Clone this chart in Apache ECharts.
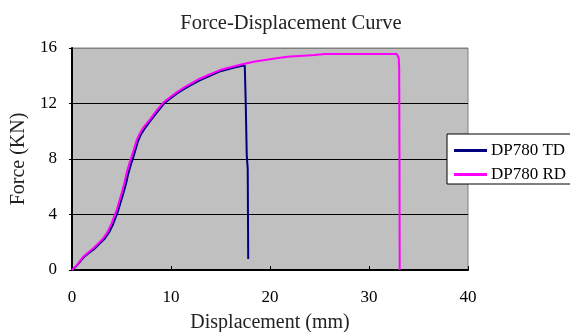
<!DOCTYPE html>
<html>
<head>
<meta charset="utf-8">
<script src="https://cdn.jsdelivr.net/npm/echarts@6/dist/echarts.min.js"></script>
<style>
  html, body { margin: 0; padding: 0; background: #fff; }
  #chart { width: 570px; height: 332px; }
</style>
</head>
<body>
<div id="chart"></div>
<script>
// Displacement (mm) and force (kN) samples for the two DP780 test directions
var dispTD = [0, 0.5, 1.2, 1.7, 2.25, 2.8, 3.3, 3.75, 4.15, 4.65, 5.15, 5.45, 5.67, 5.95, 6.18, 6.43, 6.65, 6.95, 7.3, 7.95, 8.6, 9.3, 10.0, 10.65, 11.3, 12.0, 12.9, 13.7, 15.0, 16.3, 17.45, 17.55, 17.65, 17.75, 17.8];
var forceTD = [0, 0.33, 0.93, 1.22, 1.52, 1.9, 2.25, 2.72, 3.3, 4.25, 5.45, 6.2, 6.9, 7.6, 8.1, 8.7, 9.25, 9.75, 10.15, 10.78, 11.38, 12.0, 12.4, 12.74, 13.04, 13.33, 13.67, 13.93, 14.33, 14.58, 14.75, 12.0, 8.3, 7.3, 0.8];

var dispRD = [0, 0.5, 1.14, 1.6, 2.15, 2.7, 3.16, 3.6, 4.01, 4.52, 5.02, 5.3, 5.52, 5.8, 6.03, 6.3, 6.53, 6.85, 7.2, 7.88, 8.5, 9.22, 9.9, 10.57, 11.2, 11.92, 12.8, 13.6, 14.95, 16.2, 17.3, 18.5, 19.66, 21.0, 22.02, 23.36, 24.5, 25.56, 28.0, 30.0, 32.8, 33.0, 33.05, 33.08, 33.1];
var forceRD = [0, 0.35, 0.96, 1.25, 1.57, 1.95, 2.29, 2.75, 3.38, 4.34, 5.55, 6.3, 7.0, 7.7, 8.2, 8.8, 9.35, 9.85, 10.26, 10.86, 11.45, 12.07, 12.45, 12.8, 13.1, 13.4, 13.75, 14.0, 14.41, 14.65, 14.84, 15.02, 15.16, 15.3, 15.38, 15.45, 15.5, 15.57, 15.57, 15.57, 15.57, 15.3, 14.6, 8.0, 0];

var seriesNames = ['DP780 TD', 'DP780 RD'];
var seriesColors = ['#000080', '#ff00ff'];

function pairs(xs, ys) {
  return xs.map(function (x, i) { return [x, ys[i]]; });
}

var FONT = '"Liberation Serif", "DejaVu Serif", serif';

var chart = echarts.init(document.getElementById('chart'), null, { renderer: 'canvas' });
chart.setOption({
  animation: false,
  backgroundColor: '#ffffff',
  title: {
    text: 'Force-Displacement Curve',
    left: 286,
    textAlign: 'center',
    top: 8,
    textStyle: { fontFamily: FONT, fontSize: 20.5, fontWeight: 'normal', color: '#222' }
  },
  legend: {
    orient: 'vertical',
    left: 447,
    top: 134,
    backgroundColor: '#ffffff',
    borderColor: '#000',
    borderWidth: 1,
    padding: [8, 10, 1, 7],
    icon: 'rect',
    itemWidth: 33,
    itemHeight: 3,
    itemGap: 7,
    textStyle: { fontFamily: FONT, fontSize: 17, color: '#000', lineHeight: 16, padding: [0, 0, 0, -1] },
    data: seriesNames
  },
  grid: {
    left: 72,
    right: 102,
    top: 48,
    bottom: 62,
    outerBoundsMode: 'none',
    containLabel: false,
    show: true,
    backgroundColor: '#c0c0c0',
    borderColor: '#808080',
    borderWidth: 1
  },
  xAxis: {
    type: 'value',
    min: 0,
    max: 40,
    interval: 10,
    name: 'Displacement (mm)',
    nameLocation: 'middle',
    nameGap: 43,
    nameTextStyle: { fontFamily: FONT, fontSize: 20, color: '#222' },
    axisLine: { show: true, lineStyle: { color: '#000', width: 2 } },
    axisTick: { show: true, inside: true, length: 4, lineStyle: { color: '#000' } },
    axisLabel: { fontFamily: FONT, fontSize: 17, color: '#000', margin: 19 },
    splitLine: { show: false }
  },
  yAxis: {
    type: 'value',
    min: 0,
    max: 16,
    interval: 4,
    name: 'Force (KN)',
    nameLocation: 'middle',
    nameGap: 35,
    nameTextStyle: { fontFamily: FONT, fontSize: 20, color: '#222' },
    axisLine: { show: true, lineStyle: { color: '#000', width: 2 } },
    axisTick: { show: true, inside: false, length: 3, lineStyle: { color: '#000' } },
    axisLabel: { fontFamily: FONT, fontSize: 17, color: '#000', margin: 15 },
    splitLine: {
      show: true,
      lineStyle: { color: ['#000', '#000', '#000', '#000', '#808080'], width: 1 }
    }
  },
  series: [
    {
      name: seriesNames[0],
      type: 'line',
      symbol: 'none',
      color: seriesColors[0],
      lineStyle: { color: seriesColors[0], width: 2 },
      data: pairs(dispTD, forceTD),
      z: 2
    },
    {
      name: seriesNames[1],
      type: 'line',
      symbol: 'none',
      color: seriesColors[1],
      lineStyle: { color: seriesColors[1], width: 2 },
      data: pairs(dispRD, forceRD),
      z: 3
    }
  ]
});
</script>
</body>
</html>
